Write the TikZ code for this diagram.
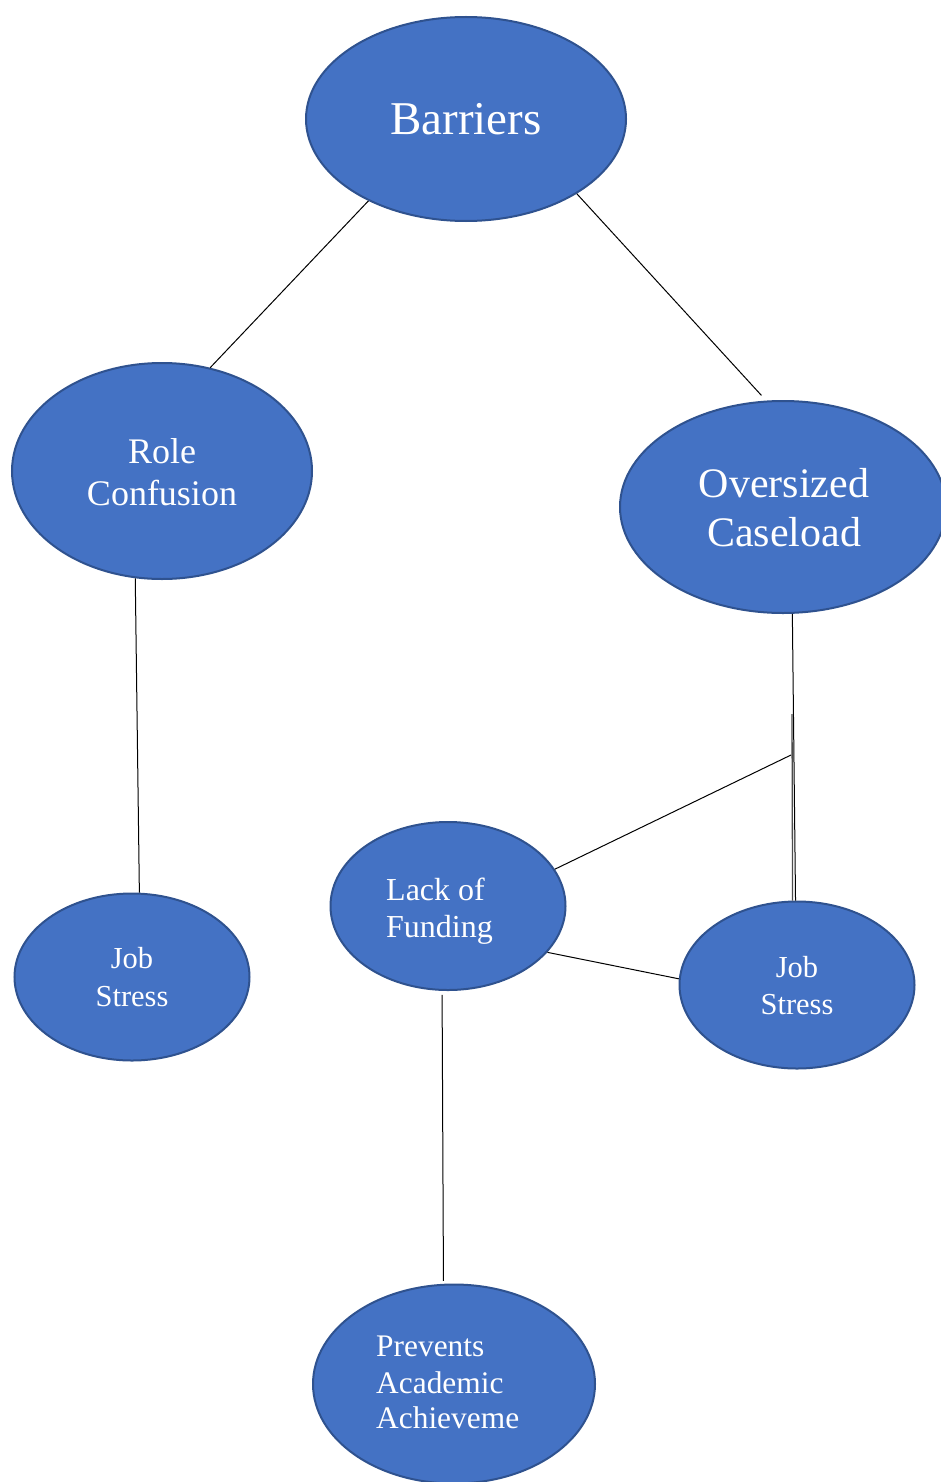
\documentclass[tikz,border=0pt]{standalone}
\usepackage{fontspec}
\setmainfont{Liberation Serif}
\usetikzlibrary{shapes.geometric}
\definecolor{fillc}{HTML}{4472C4}
\definecolor{bordc}{HTML}{2F528F}
\newcommand\myfs[1]{\fontsize{#1}{#1}\selectfont}
\tikzset{
  bub/.style={ellipse, draw=bordc, fill=fillc, line width=2pt, inner sep=0pt},
  lbl/.style={text=white, inner sep=0pt, anchor=base},
  lbw/.style={text=white, inner sep=0pt, anchor=base west},
  conn/.style={draw=black, line width=1pt},
}
\begin{document}
\begin{tikzpicture}[x=1pt,y=-1pt]
\clip (0,0) rectangle (941,1482);
\fill[white] (0,0) rectangle (941,1482);
% ellipses
\node[bub, minimum width=320pt, minimum height=204pt] (bar) at (466,119) {};
\node[bub, minimum width=300pt, minimum height=216pt] (rc) at (162,471) {};
\node[bub, minimum width=326pt, minimum height=212pt] (ov) at (783,507) {};
\node[bub, minimum width=235pt, minimum height=167pt] (js1) at (132,977) {};
\node[bub, minimum width=235pt, minimum height=168pt] (lof) at (448,906) {};
\node[bub, minimum width=235pt, minimum height=167pt] (js2) at (797,985) {};
\node[bub, minimum width=282pt, minimum height=199pt] (pr) at (454,1384) {};
% labels
\node[lbl, font=\myfs{47}] (tbar) at (466,135) {Barriers};
\node[lbl, font=\myfs{36}] (trc1) at (162,463) {Role};
\node[lbl, font=\myfs{36}] (trc2) at (162,505) {Confusion};
\node[lbl, font=\myfs{42}] (tov1) at (784,497) {Oversized};
\node[lbl, font=\myfs{42}] (tov2) at (784,546) {Caseload};
\node[lbl, font=\myfs{30.5}] (tj11) at (132,968) {Job};
\node[lbl, font=\myfs{30.5}] (tj12) at (132,1006) {Stress};
\node[lbl, font=\myfs{30.5}] (tj21) at (797,977) {Job};
\node[lbl, font=\myfs{30.5}] (tj22) at (797,1014) {Stress};
\node[lbw, font=\myfs{32}] (tlof1) at (386,900) {Lack of};
\node[lbw, font=\myfs{32}] (tlof2) at (386,937) {Funding};
\node[lbw, font=\myfs{31.4}] (tpr1) at (376,1356) {Prevents};
\node[lbw, font=\myfs{31.4}] (tpr2) at (376,1393) {Academic};
\node[lbw, font=\myfs{31.4}] (tpr3) at (376,1428) {Achieveme};
% connectors
\coordinate (c1) at (792,714);
\coordinate (c2) at (791,755);
\draw[conn] (bar.220) -- (rc.65.9);
\draw[conn, shorten >=7pt] (bar.326.9) -- (ov.99);
\draw[conn] (rc.256.2) -- (js1.85.9);
\draw[conn] (ov.275.9) -- (js2.91.4);
\draw[draw=black!70, line width=1.3pt] (c1) -- (js2.93.4);
\draw[conn] (c2) -- (lof.19.2);
\draw[conn] (lof.335) -- (js2.177.6);
\draw[conn, shorten <=4pt, shorten >=3pt] (lof.266.8) -- (pr.96.2);
\end{tikzpicture}
\end{document}
